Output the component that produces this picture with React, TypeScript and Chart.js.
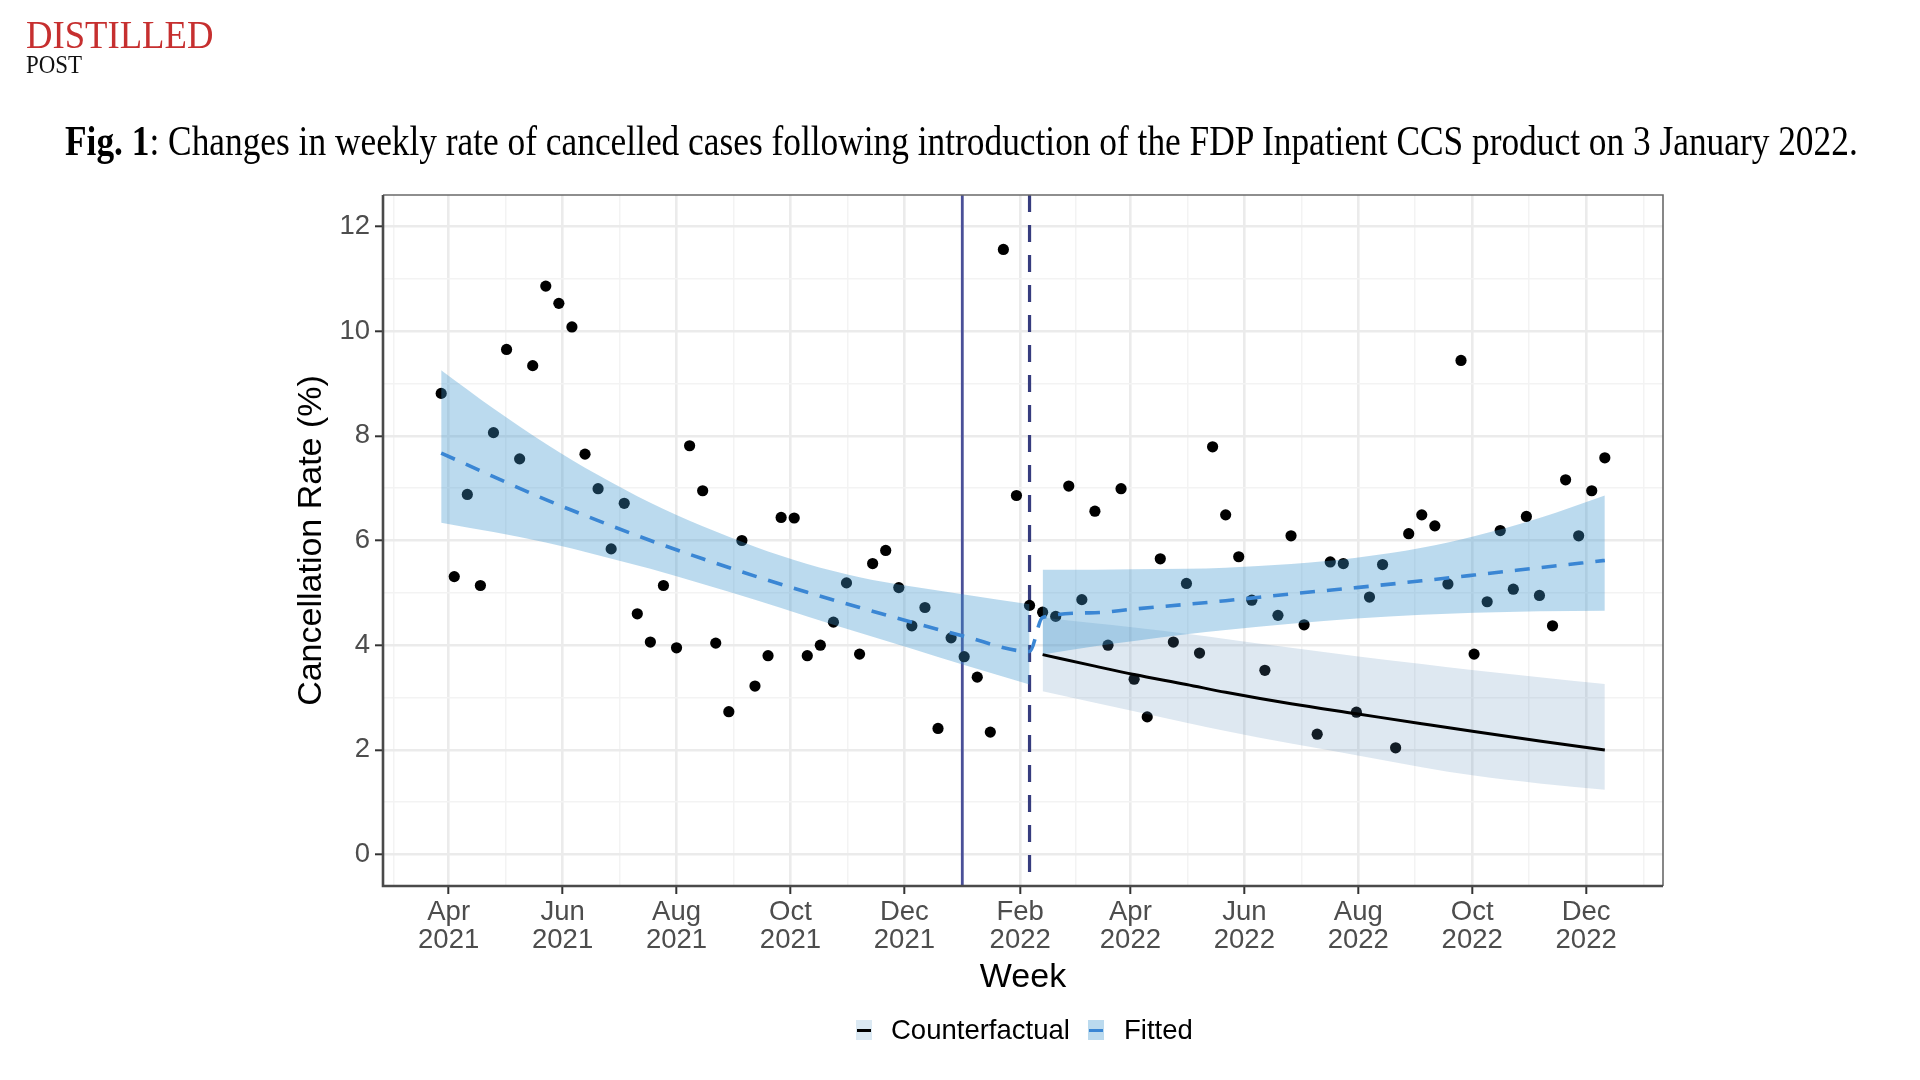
import React, { useEffect, useLayoutEffect, useRef, useState } from 'react';
import { Chart, registerables } from 'chart.js';

Chart.register(...registerables);

// ---------------- data ----------------
const EPOCH = '2021-01-01';
const FIRST_WEEK = '2021-03-28';

// weekly cancellation rate (%), one value per week from FIRST_WEEK
const cancellationRate = [
  8.81, 5.31, 6.88, 5.14, 8.06, 9.65, 7.56, 9.34, 10.86, 10.53,
  10.08, 7.65, 6.99, 5.84, 6.71, 4.60, 4.06, 5.14, 3.95, 7.81,
  6.95, 4.04, 2.73, 6.00, 3.22, 3.80, 6.44, 6.43, 3.80, 4.00,
  4.44, 5.19, 3.83, 5.56, 5.81, 5.10, 4.37, 4.72, 2.41, 4.14,
  3.78, 3.39, 2.34, 11.56, 6.86, 4.76, 4.63, 4.55, 7.04, 4.87,
  6.56, 4.00, 6.99, 3.35, 2.63, 5.65, 4.06, 5.18, 3.85, 7.79,
  6.49, 5.69, 4.86, 3.52, 4.57, 6.09, 4.39, 2.30, 5.59, 5.56,
  2.72, 4.92, 5.54, 2.04, 6.13, 6.49, 6.28, 5.17, 9.44, 3.83,
  4.83, 6.19, 5.07, 6.46, 4.95, 4.37, 7.16, 6.09, 6.95, 7.58,
];

// fitted model, pre period (week index)
const preWeeks = [0, 4, 8, 12, 16, 20, 24, 28, 32, 36, 40, 45];
const preFitted = [7.67, 7.22, 6.78, 6.38, 6.0, 5.65, 5.32, 5.01, 4.72, 4.44, 4.17, 3.88];
const preUpper = [9.25, 8.52, 7.85, 7.25, 6.72, 6.27, 5.88, 5.55, 5.3, 5.12, 4.97, 4.78];
const preLower = [6.34, 6.16, 5.96, 5.72, 5.46, 5.17, 4.87, 4.55, 4.24, 3.93, 3.62, 3.25];

// post period (week index)
const postWeeks = [46, 50, 53, 57, 60, 65, 70, 75, 79, 84, 89];
const postFitted = [4.53, 4.62, 4.69, 4.78, 4.85, 4.98, 5.1, 5.23, 5.34, 5.48, 5.62];
const postUpper = [5.44, 5.44, 5.45, 5.46, 5.48, 5.55, 5.67, 5.86, 6.08, 6.43, 6.86];
const postLower = [3.82, 3.98, 4.08, 4.21, 4.29, 4.41, 4.51, 4.58, 4.62, 4.65, 4.66];
const counterfactual = [3.82, 3.6, 3.44, 3.25, 3.1, 2.88, 2.69, 2.5, 2.35, 2.17, 2.0];
const cfUpper = [4.53, 4.42, 4.34, 4.22, 4.12, 3.95, 3.79, 3.64, 3.52, 3.39, 3.26];
const cfLower = [3.12, 2.9, 2.74, 2.52, 2.36, 2.12, 1.9, 1.67, 1.51, 1.36, 1.24];

const interventionDate = '2022-01-01';
const lagDate = '2022-02-06';

// axis breaks
const xBreakDates = [
  '2021-02-01', '2021-04-01', '2021-06-01', '2021-08-01', '2021-10-01', '2021-12-01',
  '2022-02-01', '2022-04-01', '2022-06-01', '2022-08-01', '2022-10-01', '2022-12-01', '2023-02-01',
];
const xBreakLabels = [
  ['Feb', '2021'], ['Apr', '2021'], ['Jun', '2021'], ['Aug', '2021'], ['Oct', '2021'], ['Dec', '2021'],
  ['Feb', '2022'], ['Apr', '2022'], ['Jun', '2022'], ['Aug', '2022'], ['Oct', '2022'], ['Dec', '2022'], ['Feb', '2023'],
];
const yBreaks = [0, 2, 4, 6, 8, 10, 12];
const yLimits = [0, 12];

const titleBold = 'Fig. 1';
const titleRest = ': Changes in weekly rate of cancelled cases following introduction of the FDP Inpatient CCS product on 3 January 2022.';
const legendLabels = ['Counterfactual', 'Fitted'];

// ---------------- styles ----------------
const FIT_RIBBON = 'rgba(60,150,205,0.35)';
const CF_RIBBON = 'rgba(90,140,185,0.2)';
const FIT_LINE = '#3a86d4';
const CF_LINE = '#000000';
const VLINE_SOLID = '#4a5098';
const VLINE_DASH = '#363c7e';

// ---------------- helpers ----------------
const dayOf = (iso: string) => {
  const [y, m, d] = iso.split('-').map(Number);
  const [ey, em, ed] = EPOCH.split('-').map(Number);
  return (Date.UTC(y, m - 1, d) - Date.UTC(ey, em - 1, ed)) / 86400000;
};
const weekDay = (i: number) => dayOf(FIRST_WEEK) + 7 * i;

const xFirst = weekDay(0);
const xLast = weekDay(cancellationRate.length - 1);
const xMin = xFirst - 0.05 * (xLast - xFirst);
const xMax = xLast + 0.05 * (xLast - xFirst);
const yMin = yLimits[0] - 0.05 * (yLimits[1] - yLimits[0]);
const yMax = yLimits[1] + 0.05 * (yLimits[1] - yLimits[0]);

const xBreakDays = xBreakDates.map(dayOf);
const xMajor = new Map<number, string[]>();
xBreakDays.forEach((d, i) => {
  if (d >= xMin && d <= xMax) xMajor.set(d, xBreakLabels[i]);
});
const xMinor: number[] = [];
for (let i = 0; i < xBreakDays.length - 1; i++) {
  const m = (xBreakDays[i] + xBreakDays[i + 1]) / 2;
  if (m >= xMin && m <= xMax) xMinor.push(m);
}
const xTickValues = [...xMajor.keys(), ...xMinor].sort((a, b) => a - b);

const yMinor: number[] = [];
for (let i = 0; i < yBreaks.length - 1; i++) yMinor.push((yBreaks[i] + yBreaks[i + 1]) / 2);
const yTickValues = [...yBreaks, ...yMinor].sort((a, b) => a - b);
const yMajorSet = new Set(yBreaks);

const series = (weeks: number[], vals: number[]) => weeks.map((w, i) => ({ x: weekDay(w), y: vals[i] }));

const FONT = 'Liberation Sans, Arial, sans-serif';
const SERIF = '"Liberation Serif", "Times New Roman", serif';

function FitText(props: { width: number; style: React.CSSProperties; children: React.ReactNode }) {
  const ref = useRef<HTMLSpanElement>(null);
  const [sx, setSx] = useState(1);
  useLayoutEffect(() => {
    if (ref.current) {
      const w = ref.current.scrollWidth;
      if (w > 0) setSx(props.width / w);
    }
  }, []);
  return (
    <span
      ref={ref}
      style={{
        ...props.style,
        position: 'absolute',
        display: 'inline-block',
        whiteSpace: 'nowrap',
        lineHeight: 1,
        transform: `scaleX(${sx})`,
        transformOrigin: 'left top',
      }}
    >
      {props.children}
    </span>
  );
}

const vLinesPlugin = {
  id: 'vLines',
  beforeDatasetsDraw(chart: any) {
    const { ctx, chartArea, scales } = chart;
    const draw = (iso: string, color: string, width: number, dash: number[]) => {
      const x = scales.x.getPixelForValue(dayOf(iso));
      ctx.save();
      ctx.strokeStyle = color;
      ctx.lineWidth = width;
      ctx.setLineDash(dash);
      ctx.beginPath();
      ctx.moveTo(x, chartArea.top);
      ctx.lineTo(x, chartArea.bottom);
      ctx.stroke();
      ctx.restore();
    };
    draw(interventionDate, VLINE_SOLID, 2.8, []);
    draw(lagDate, VLINE_DASH, 3.2, [17, 13]);
  },
};

const borderPlugin = {
  id: 'panelBorder',
  afterDatasetsDraw(chart: any) {
    const { ctx, chartArea: a } = chart;
    ctx.save();
    ctx.strokeStyle = '#6a6a6a';
    ctx.lineWidth = 1.6;
    ctx.beginPath();
    ctx.moveTo(a.left, a.top);
    ctx.lineTo(a.right, a.top);
    ctx.lineTo(a.right, a.bottom);
    ctx.stroke();
    ctx.strokeStyle = '#4a4a4a';
    ctx.lineWidth = 2.6;
    ctx.beginPath();
    ctx.moveTo(a.left, a.top);
    ctx.lineTo(a.left, a.bottom);
    ctx.lineTo(a.right, a.bottom);
    ctx.stroke();
    ctx.restore();
  },
};

export default function App() {
  const canvasRef = useRef<HTMLCanvasElement>(null);

  useEffect(() => {
    document.body.style.overflow = 'hidden';
    const canvas = canvasRef.current;
    if (!canvas) return;
    const ribbon = { borderWidth: 0, pointRadius: 0, pointHoverRadius: 0, cubicInterpolationMode: 'monotone' as const };
    const chart = new Chart(canvas, {
      type: 'line',
      data: {
        datasets: [
          {
            label: 'Observed',
            data: cancellationRate.map((v, i) => ({ x: weekDay(i), y: v })),
            showLine: false,
            pointRadius: 5.6,
            pointBackgroundColor: '#000000',
            pointBorderWidth: 0,
            order: 10,
          },
          { label: 'cfUpper', data: series(postWeeks, cfUpper), ...ribbon, fill: '+1', backgroundColor: CF_RIBBON, order: 6 },
          { label: 'cfLower', data: series(postWeeks, cfLower), ...ribbon, fill: false, order: 6 },
          { label: 'preUpper', data: series(preWeeks, preUpper), ...ribbon, fill: '+1', backgroundColor: FIT_RIBBON, order: 5 },
          { label: 'preLower', data: series(preWeeks, preLower), ...ribbon, fill: false, order: 5 },
          { label: 'postUpper', data: series(postWeeks, postUpper), ...ribbon, fill: '+1', backgroundColor: FIT_RIBBON, order: 5 },
          { label: 'postLower', data: series(postWeeks, postLower), ...ribbon, fill: false, order: 5 },
          {
            label: 'Counterfactual',
            data: series(postWeeks, counterfactual),
            borderColor: CF_LINE,
            borderWidth: 3,
            pointRadius: 0,
            fill: false,
            cubicInterpolationMode: 'monotone',
            order: 2,
          },
          {
            label: 'Fitted',
            data: series([...preWeeks, ...postWeeks], [...preFitted, ...postFitted]),
            borderColor: FIT_LINE,
            borderWidth: 3.6,
            borderDash: [15, 12],
            pointRadius: 0,
            fill: false,
            cubicInterpolationMode: 'monotone',
            order: 1,
          },
        ] as any,
      },
      options: {
        animation: false,
        responsive: false,
        devicePixelRatio: 1,
        layout: { padding: { left: 291, right: 257, top: 195, bottom: 82 } },
        plugins: { legend: { display: false }, tooltip: { enabled: false } },
        scales: {
          x: {
            type: 'linear',
            min: xMin,
            max: xMax,
            afterBuildTicks: (scale: any) => {
              scale.ticks = xTickValues.map((v) => ({ value: v }));
            },
            afterFit: (scale: any) => {
              scale.height = 112;
            },
            ticks: {
              autoSkip: false,
              maxRotation: 0,
              minRotation: 0,
              padding: 4,
              color: '#4d4d4d',
              font: { family: FONT, size: 27.5, lineHeight: 1.04 },
              callback: (v: any) => (xMajor.has(v) ? xMajor.get(v) : ''),
            },
            grid: {
              color: (c: any) => (c.tick && xMajor.has(c.tick.value) ? '#ebebeb' : '#f3f3f3'),
              lineWidth: (c: any) => (c.tick && xMajor.has(c.tick.value) ? 2.6 : 1.5),
              tickColor: (c: any) => (c.tick && xMajor.has(c.tick.value) ? '#333333' : 'rgba(0,0,0,0)'),
              tickWidth: 2,
              tickLength: 8,
            },
            border: { display: false },
            title: {
              display: true,
              text: 'Week',
              color: '#000000',
              font: { family: FONT, size: 34, lineHeight: 1.2 },
              padding: 0,
            },
          },
          y: {
            type: 'linear',
            min: yMin,
            max: yMax,
            afterBuildTicks: (scale: any) => {
              scale.ticks = yTickValues.map((v) => ({ value: v }));
            },
            afterFit: (scale: any) => {
              scale.width = 92;
            },
            ticks: {
              padding: 5,
              color: '#4d4d4d',
              font: { family: FONT, size: 27.5 },
              callback: (v: any) => (yMajorSet.has(v) ? String(v) : ''),
            },
            grid: {
              color: (c: any) => (c.tick && yMajorSet.has(c.tick.value) ? '#ebebeb' : '#f3f3f3'),
              lineWidth: (c: any) => (c.tick && yMajorSet.has(c.tick.value) ? 2.6 : 1.5),
              tickColor: (c: any) => (c.tick && yMajorSet.has(c.tick.value) ? '#333333' : 'rgba(0,0,0,0)'),
              tickWidth: 2,
              tickLength: 8,
            },
            border: { display: false },
            title: {
              display: true,
              text: 'Cancellation Rate (%)',
              color: '#000000',
              font: { family: FONT, size: 34, lineHeight: 1.2 },
              padding: 0,
            },
          },
        },
      } as any,
      plugins: [vLinesPlugin, borderPlugin],
    });
    return () => chart.destroy();
  }, []);

  const keyStyle = (left: number, bg: string): React.CSSProperties => ({
    position: 'absolute',
    left,
    top: 1020,
    width: 16,
    height: 20,
    background: bg,
  });
  const keyLine = (color: string): React.CSSProperties => ({
    position: 'absolute',
    left: 1,
    right: 1,
    top: 8.5,
    height: 3,
    background: color,
  });
  const legendText = (left: number): React.CSSProperties => ({
    position: 'absolute',
    left,
    top: 1014,
    fontFamily: FONT,
    fontSize: 27.5,
    lineHeight: '32px',
    color: '#000',
    whiteSpace: 'nowrap',
  });

  return (
    <div>
      <div style={{ position: 'absolute', left: 0, top: 0, width: 1920, height: 1080, background: '#fff' }}>
        <canvas ref={canvasRef} width={1920} height={1080} style={{ width: 1920, height: 1080, display: 'block' }} />
      </div>
      <FitText width={187} style={{ left: 26, top: 14.8, fontFamily: SERIF, fontSize: 40, color: '#c62f2f' }}>
        DISTILLED
      </FitText>
      <FitText width={56} style={{ left: 26, top: 51.8, fontFamily: SERIF, fontSize: 25, color: '#111' }}>
        POST
      </FitText>
      <FitText width={1793} style={{ left: 65, top: 120.3, fontFamily: SERIF, fontSize: 42, color: '#000' }}>
        <b>{titleBold}</b>
        {titleRest}
      </FitText>
      <div style={keyStyle(856, 'rgb(219,233,243)')}>
        <div style={keyLine(CF_LINE)} />
      </div>
      <div style={legendText(891)}>{legendLabels[0]}</div>
      <div style={keyStyle(1088, 'rgb(187,218,238)')}>
        <div style={keyLine(FIT_LINE)} />
      </div>
      <div style={legendText(1124)}>{legendLabels[1]}</div>
    </div>
  );
}
